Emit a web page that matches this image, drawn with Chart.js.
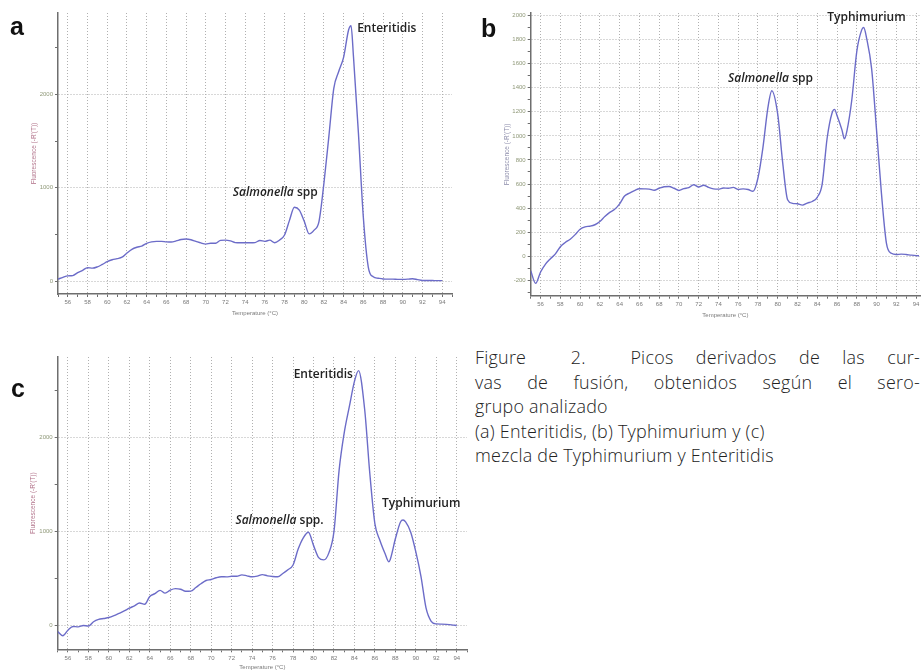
<!DOCTYPE html>
<html>
<head>
<meta charset="utf-8">
<script src="https://cdn.jsdelivr.net/npm/chart.js@4.4.1/dist/chart.umd.min.js"></script>
<style>
    html, body { margin: 0; padding: 0; background: #fff; }
    body { width: 921px; height: 671px; position: relative; overflow: hidden; }
    canvas { position: absolute; }
    .tag { position: absolute; font: bold 25px "Liberation Sans", Arial, sans-serif; line-height: 1; color: #111; }
    .caption { position: absolute; left: 475px; top: 345px; width: 445px; font-family: "Open Sans", sans-serif; font-weight: 300; font-size: 17.9px; letter-spacing: 0.25px; line-height: 24.5px; color: #222; }
    .caption .j { text-align: justify; text-align-last: justify; white-space: pre-wrap; }
</style>
</head>
<body>
<canvas id="chartA" width="460" height="320" style="left:0;top:0"></canvas>
<canvas id="chartB" width="451" height="320" style="left:470px;top:0"></canvas>
<canvas id="chartC" width="470" height="341" style="left:0;top:330px"></canvas>

<div class="tag" style="left:10px;top:14px">a</div>
<div class="tag" style="left:481px;top:16px">b</div>
<div class="tag" style="left:11px;top:376px">c</div>

<div class="caption">
    <div class="j">Figure  2.  Picos derivados de las cur-</div>
    <div class="j">vas de fusión, obtenidos según el sero-</div>
    <div>grupo analizado</div>
    <div>(a) Enteritidis, (b) Typhimurium y (c)</div>
    <div>mezcla de Typhimurium y Enteritidis</div>
</div>

<script>
// Melt curve derivative data (-R'(T))

// (a) Enteritidis
const tempsA = [55, 55.5, 56, 56.5, 57, 57.5, 58, 58.5, 59, 59.5, 60, 60.5, 61, 61.5, 62, 62.5, 63, 63.5, 64, 64.5,
    65, 65.5, 66, 66.5, 67, 67.5, 68, 68.5, 69, 69.5, 70, 70.5, 71, 71.5, 72, 72.5, 73, 73.5, 74, 74.5,
    75, 75.5, 76, 76.5, 77, 77.5, 78, 78.5, 79, 79.5, 80, 80.5, 81, 81.5, 82, 82.5, 83, 83.5, 84, 84.5, 84.75,
    85, 85.5, 86, 86.5, 87, 87.5, 88, 88.5, 89, 89.5, 90, 90.5, 91, 91.5, 92, 92.5, 93, 93.5, 94];
const valuesA = [20, 40, 55, 58, 90, 115, 143, 138, 152, 178, 207, 228, 240, 255, 300, 340, 362, 375, 404, 420,
    425, 425, 420, 418, 430, 445, 450, 442, 425, 408, 395, 405, 405, 435, 438, 430, 412, 410, 410, 410,
    412, 435, 425, 438, 410, 440, 493, 650, 790, 760, 640, 505, 545, 640, 1050, 1550, 2065, 2245, 2400, 2690, 2735,
    2400, 1585, 680, 150, 45, 30, 22, 20, 20, 18, 18, 20, 25, 15, 6, 5, 5, 4, 4];

// (b) Typhimurium
const tempsB = [55, 55.5, 56, 56.5, 57, 57.5, 58, 58.5, 59, 59.5, 60, 60.5, 61, 61.5, 62, 62.5, 63, 63.5, 64, 64.5,
    65, 65.5, 66, 66.5, 67, 67.5, 68, 68.5, 69, 69.5, 70, 70.5, 71, 71.5, 72, 72.5, 73, 73.5, 74, 74.5,
    75, 75.5, 76, 76.5, 77, 77.5, 78, 78.5, 79, 79.4, 80, 80.5, 81, 81.5, 82, 82.5, 83, 83.5, 84, 84.5,
    85, 85.5, 85.75, 86, 86.5, 86.75, 87, 87.5, 88, 88.5, 88.7, 89, 89.5, 90, 90.5, 91, 91.5, 92, 92.5, 93, 93.5, 94, 94.3];
const valuesB = [-120, -225, -130, -65, -20, 20, 80, 115, 142, 180, 225, 245, 250, 262, 289, 330, 365, 390, 436, 500,
    525, 545, 561, 560, 558, 548, 565, 578, 580, 565, 547, 562, 570, 594, 575, 590, 572, 560, 558, 567,
    565, 572, 555, 560, 555, 540, 650, 900, 1230, 1375, 1180, 780, 470, 440, 436, 425, 442, 455, 490, 600,
    980, 1190, 1220, 1170, 1050, 975, 1040, 1300, 1700, 1880, 1900, 1810, 1560, 1050, 520, 110, 25, 15, 18, 15, 10, 6, 5];

// (c) Typhimurium + Enteritidis mix
const tempsC = [55, 55.5, 56, 56.5, 57, 57.5, 58, 58.5, 59, 59.5, 60, 60.5, 61, 61.5, 62, 62.5, 63, 63.5, 64, 64.5,
    65, 65.5, 66, 66.5, 67, 67.5, 68, 68.5, 69, 69.5, 70, 70.5, 71, 71.5, 72, 72.5, 73, 73.5, 74, 74.5,
    75, 75.5, 76, 76.5, 77, 77.5, 78, 78.5, 79, 79.5, 80, 80.5, 81, 81.5, 82, 82.5, 83, 83.5, 84, 84.4,
    85, 85.5, 86, 86.5, 87, 87.35, 87.5, 88, 88.5, 88.75, 89, 89.5, 90, 90.5, 91, 91.5, 92, 92.5, 93, 93.5, 94];
const valuesC = [-70, -115, -55, -15, -20, -5, -10, 35, 60, 70, 80, 100, 125, 150, 180, 205, 235, 222, 305, 335,
    370, 340, 372, 388, 382, 360, 362, 400, 440, 475, 486, 505, 515, 514, 520, 521, 535, 525, 515, 522,
    538, 525, 518, 515, 550, 590, 640, 810, 930, 990, 850, 720, 695, 770, 1000, 1650, 2050, 2330, 2600, 2715,
    2300, 1620, 1080, 900, 760, 675, 700, 920, 1100, 1120, 1100, 990, 780, 520, 180, 40, 12, 10, 7, 2, -5];

// Axis ticks
const xTicks = [55, 56, 57, 58, 59, 60, 61, 62, 63, 64, 65, 66, 67, 68, 69, 70, 71, 72, 73, 74,
    75, 76, 77, 78, 79, 80, 81, 82, 83, 84, 85, 86, 87, 88, 89, 90, 91, 92, 93, 94, 95];
const xLabelTemps = [56, 58, 60, 62, 64, 66, 68, 70, 72, 74, 76, 78, 80, 82, 84, 86, 88, 90, 92, 94];
const yTicksAC = [0, 500, 1000, 1500, 2000, 2500];
const yLabelsAC = [0, 1000, 2000];
const yTicksB = [-300, -200, -100, 0, 100, 200, 300, 400, 500, 600, 700, 800, 900, 1000,
    1100, 1200, 1300, 1400, 1500, 1600, 1700, 1800, 1900, 2000];
const yLabelsB = [-200, 0, 200, 400, 600, 800, 1000, 1200, 1400, 1600, 1800, 2000];

const lineColor = '#6c6cc8';
const axisColor = '#6e6e6e';
const gridColor = '#b0b0b0';

// Peak names drawn at data coordinates
const peakLabels = {
    id: 'peakLabels',
    afterDatasetsDraw(chart, args, opts) {
        const { ctx, scales: { x, y } } = chart;
        (opts.items || []).forEach(item => {
            let px = x.getPixelForValue(item.t);
            const py = y.getPixelForValue(item.v);
            ctx.save();
            ctx.fillStyle = '#222';
            ctx.textBaseline = 'middle';
            if (item.italic) {
                ctx.font = 'italic 600 12px "Open Sans"';
                ctx.fillText(item.italic, px, py);
                px += ctx.measureText(item.italic).width;
            }
            ctx.font = '600 12px "Open Sans"';
            ctx.fillText(item.text, px, py);
            ctx.restore();
        });
    }
};

function buildPanel(canvasId, temps, values, cfg) {
    const points = temps.map((t, i) => ({ x: t, y: values[i] }));
    return new Chart(document.getElementById(canvasId), {
        type: 'line',
        data: {
            datasets: [{
                data: points,
                borderColor: lineColor,
                borderWidth: 1.4,
                pointRadius: 0,
                cubicInterpolationMode: 'monotone',
                fill: false
            }]
        },
        options: {
            responsive: false,
            animation: false,
            devicePixelRatio: 1,
            layout: { padding: cfg.padding },
            plugins: {
                legend: { display: false },
                tooltip: { enabled: false },
                peakLabels: { items: cfg.labels }
            },
            scales: {
                x: {
                    type: 'linear',
                    min: cfg.xMin,
                    max: cfg.xMax,
                    afterBuildTicks: s => {
                        s.ticks = xTicks.filter(v => v >= cfg.xMin && v <= cfg.xMax).map(v => ({ value: v }));
                    },
                    afterFit: s => {
                        s.height = cfg.xAxisHeight;
                        s.paddingLeft = 0;
                        s.paddingRight = 0;
                    },
                    ticks: {
                        autoSkip: false,
                        maxRotation: 0,
                        padding: 2,
                        color: '#7a7a7a',
                        font: { size: 6, family: 'Liberation Sans' },
                        callback: v => xLabelTemps.includes(v) ? String(v) : ''
                    },
                    grid: {
                        color: c => (c.tick && xLabelTemps.includes(c.tick.value)) ? gridColor : 'rgba(0,0,0,0)',
                        tickColor: axisColor,
                        tickLength: 3,
                        lineWidth: 1
                    },
                    border: { color: axisColor, width: 1.5, dash: [1, 2] },
                    title: {
                        display: true,
                        text: 'Temperature (°C)',
                        color: '#7a7a7a',
                        font: { size: 6, family: 'Liberation Sans' },
                        padding: { top: 0, bottom: cfg.xTitlePad }
                    }
                },
                y: {
                    type: 'linear',
                    min: cfg.yMin,
                    max: cfg.yMax,
                    afterBuildTicks: s => {
                        s.ticks = cfg.yTicks.map(v => ({ value: v }));
                    },
                    afterFit: s => {
                        s.width = cfg.yAxisWidth;
                        s.paddingTop = 0;
                        s.paddingBottom = 0;
                    },
                    ticks: {
                        autoSkip: false,
                        padding: 2,
                        color: '#8f9878',
                        font: { size: 6, family: 'Liberation Sans' },
                        callback: v => cfg.yLabels.includes(v) ? String(v) : ''
                    },
                    grid: {
                        color: c => (c.tick && cfg.yLabels.includes(c.tick.value)) ? gridColor : 'rgba(0,0,0,0)',
                        tickColor: axisColor,
                        tickLength: 3,
                        lineWidth: 1
                    },
                    border: { color: axisColor, width: 1.5, dash: [1, 2] },
                    title: {
                        display: true,
                        text: "Fluorescence (-R'(T))",
                        color: cfg.yTitleColor,
                        font: { size: 6.5, family: 'Liberation Sans' },
                        padding: { top: 0, bottom: 0 }
                    }
                }
            }
        },
        plugins: [peakLabels]
    });
}

buildPanel('chartA', tempsA, valuesA, {
    padding: { left: 30, right: 8, top: 13, bottom: 0 },
    yAxisWidth: 28, xAxisHeight: 26, xTitlePad: 3,
    xMin: 55, xMax: 95, yMin: -139, yMax: 2872,
    yTicks: yTicksAC, yLabels: yLabelsAC, yTitleColor: '#b07088',
    labels: [
        { t: 85.37, v: 2701, text: 'Enteritidis' },
        { t: 72.75, v: 943, italic: 'Salmonella', text: ' spp' }
    ]
});

buildPanel('chartB', tempsB, valuesB, {
    padding: { left: 33, right: 1, top: 13, bottom: 0 },
    yAxisWidth: 27.7, xAxisHeight: 24.3, xTitlePad: 1.4,
    xMin: 55, xMax: 94.4, yMin: -327, yMax: 2020,
    yTicks: yTicksB, yLabels: yLabelsB, yTitleColor: '#8c8caa',
    labels: [
        { t: 85.02, v: 1986, text: 'Typhimurium' },
        { t: 74.97, v: 1473, italic: 'Salmonella', text: ' spp' }
    ]
});

buildPanel('chartC', tempsC, valuesC, {
    padding: { left: 29, right: 3, top: 27, bottom: 0 },
    yAxisWidth: 28.7, xAxisHeight: 21.7, xTitlePad: 0,
    xMin: 55, xMax: 95, yMin: -259, yMax: 2860,
    yTicks: yTicksAC, yLabels: yLabelsAC, yTitleColor: '#b07088',
    labels: [
        { t: 78.06, v: 2673, text: 'Enteritidis' },
        { t: 72.37, v: 1119, italic: 'Salmonella', text: ' spp.' },
        { t: 86.7, v: 1297, text: 'Typhimurium' }
    ]
});
</script>
</body>
</html>
